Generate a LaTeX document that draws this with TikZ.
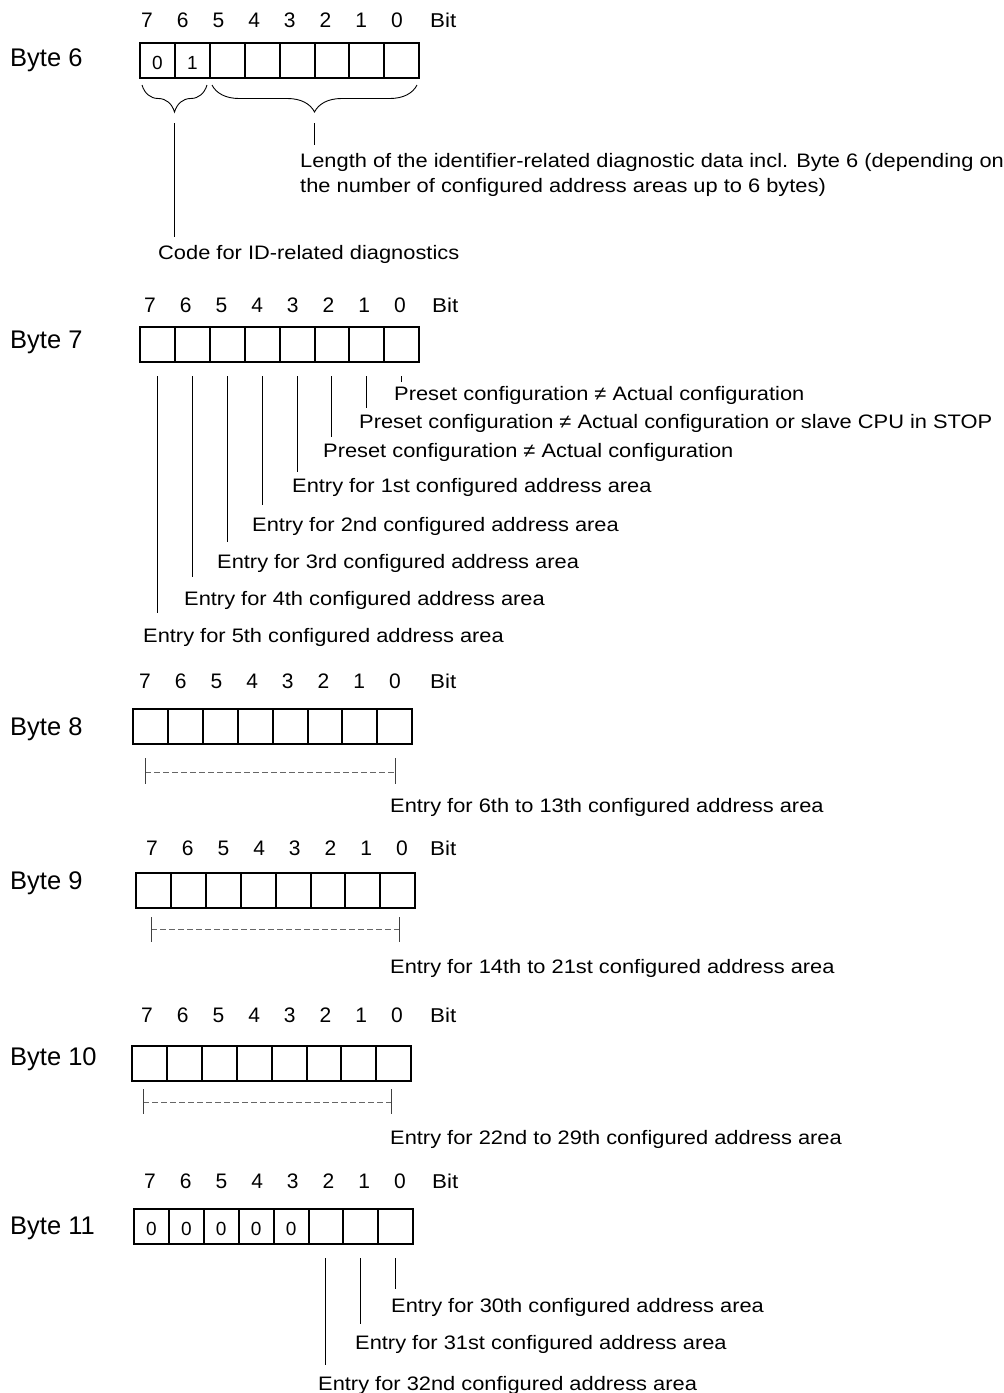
\documentclass[tikz,border=0pt]{standalone}
\usepackage{fontspec}
\setmainfont[FakeStretch=1.12]{Liberation Sans}
\newfontfamily\bytefont{Liberation Sans}
\usetikzlibrary{decorations.pathreplacing,calc}
\begin{document}
\begin{tikzpicture}[x=1pt,y=-1pt,
  cell/.style={draw, line width=2pt, minimum width=34.9pt, minimum height=35pt, inner sep=0pt, outer sep=0pt},
  celldigit/.style={inner sep=0pt, font=\bytefont\fontsize{19}{22}\selectfont},
  bitnum/.style={anchor=base, inner sep=0pt, font=\bytefont\fontsize{21}{24}\selectfont},
  bitword/.style={anchor=base west, inner sep=0pt, font=\fontsize{20}{24}\selectfont},
  bytelbl/.style={anchor=base west, inner sep=0pt, font=\bytefont\fontsize{25.5}{30}\selectfont},
  txt/.style={anchor=base west, inner sep=0pt, font=\fontsize{19.5}{25}\selectfont},
  lead/.style={line width=1pt},
  dashline/.style={line width=0.9pt, draw=black!60, dash pattern=on 5.5pt off 3.5pt},
  tick/.style={line width=1pt, draw=black!75},
  bracestyle/.style={line width=0.9pt, decorate, decoration={brace, mirror, amplitude=27pt}},
]
\useasboundingbox (0,0) rectangle (1004,1393);

% #1 name, #2 x0, #3 top, #4 x of digit 7, #5 baseline of digits, #6 x of "Bit", #7 label, #8 label baseline
\newcommand{\drawbyte}[8]{%
  \foreach \i in {0,...,7} {
    \node[cell] (#1-\i) at ({#2+(7-\i)*34.9+17.45},{#3+17.5}) {};
    \node[bitnum] (#1-n\i) at ({#4+(7-\i)*35.7},#5) {\i};
  }
  \node[bitword] (#1-bit) at (#6,#5) {Bit};
  \node[bytelbl] (#1-lbl) at (10,#8) {#7};
}

% ---------- Byte 6 ----------
\drawbyte{B6}{140}{43}{147}{27}{430}{Byte 6}{66}
\node[celldigit] (v7) at ([yshift=-2pt]B6-7.center) {0};
\node[celldigit] (v6) at ([yshift=-2pt]B6-6.center) {1};
\draw[bracestyle] (142,85) -- (207,85);
\draw[bracestyle] (212,85) -- (417,85);
\coordinate (br1) at (174,123);
\coordinate (br2) at (314,123);
\node[txt] (len1) at (300,167) {Length of the identifier-related diagnostic data incl. Byte 6 (depending on};
\node[txt] (len2) at (300,192) {the number of configured address areas up to 6 bytes)};
\node[txt] (code) at (158,259) {Code for ID-related diagnostics};
\draw[lead] (br1) -- (br1 |- 0,237);
\draw[lead] (br2) -- (br2 |- 0,145);

% ---------- Byte 7 ----------
\drawbyte{B7}{140}{327}{150}{312}{432}{Byte 7}{348}
\node[txt] (t0) at (394,400) {Preset configuration ≠ Actual configuration};
\node[txt] (t1) at (359,428) {Preset configuration ≠ Actual configuration or slave CPU in STOP};
\node[txt] (t2) at (323,457) {Preset configuration ≠ Actual configuration};
\node[txt] (t3) at (292,492) {Entry for 1st configured address area};
\node[txt] (t4) at (252,531) {Entry for 2nd configured address area};
\node[txt] (t5) at (217,568) {Entry for 3rd configured address area};
\node[txt] (t6) at (184,605) {Entry for 4th configured address area};
\node[txt] (t7) at (143,642) {Entry for 5th configured address area};
\foreach \i/\e in {0/382,1/408,2/437,3/472,4/505,5/542,6/577,7/613} {
  \draw[lead] ([yshift=-14pt]B7-\i.south) -- (B7-\i.south |- 0,\e);
}

% ---------- Byte 8 ----------
\drawbyte{B8}{133}{709}{145}{688}{430}{Byte 8}{735}
\coordinate (d8l) at (145,772);
\coordinate (d8r) at (395,772);
\draw[dashline] (d8l) -- (d8r);
\draw[tick] ([yshift=14pt]d8l) -- ([yshift=-12pt]d8l);
\draw[tick] ([yshift=14pt]d8r) -- ([yshift=-12pt]d8r);
\node[txt] (t8) at (390,812) {Entry for 6th to 13th configured address area};

% ---------- Byte 9 ----------
\drawbyte{B9}{136}{873}{152}{855}{430}{Byte 9}{889}
\coordinate (d9l) at (151,929);
\coordinate (d9r) at (399,929);
\draw[dashline] (d9l) -- (d9r);
\draw[tick] ([yshift=12pt]d9l) -- ([yshift=-13pt]d9l);
\draw[tick] ([yshift=12pt]d9r) -- ([yshift=-13pt]d9r);
\node[txt] (t9) at (390,973) {Entry for 14th to 21st configured address area};

% ---------- Byte 10 ----------
\drawbyte{B10}{132}{1046}{147}{1022}{430}{Byte 10}{1065}
\coordinate (d10l) at (143,1102);
\coordinate (d10r) at (391,1102);
\draw[dashline] (d10l) -- (d10r);
\draw[tick] ([yshift=13pt]d10l) -- ([yshift=-12pt]d10l);
\draw[tick] ([yshift=13pt]d10r) -- ([yshift=-12pt]d10r);
\node[txt] (t10) at (390,1144) {Entry for 22nd to 29th configured address area};

% ---------- Byte 11 ----------
\drawbyte{B11}{134}{1209}{150}{1188}{432}{Byte 11}{1234}
\foreach \i in {3,...,7} {
  \node[celldigit] (w\i) at ([yshift=-2pt]B11-\i.center) {0};
}
\node[txt] (u0) at (391,1312) {Entry for 30th configured address area};
\node[txt] (u1) at (355,1349) {Entry for 31st configured address area};
\node[txt] (u2) at (318,1390) {Entry for 32nd configured address area};
\foreach \i/\e in {0/1289,1/1324,2/1365} {
  \draw[lead] ([yshift=-14pt]B11-\i.south) -- (B11-\i.south |- 0,\e);
}
\end{tikzpicture}
\end{document}
